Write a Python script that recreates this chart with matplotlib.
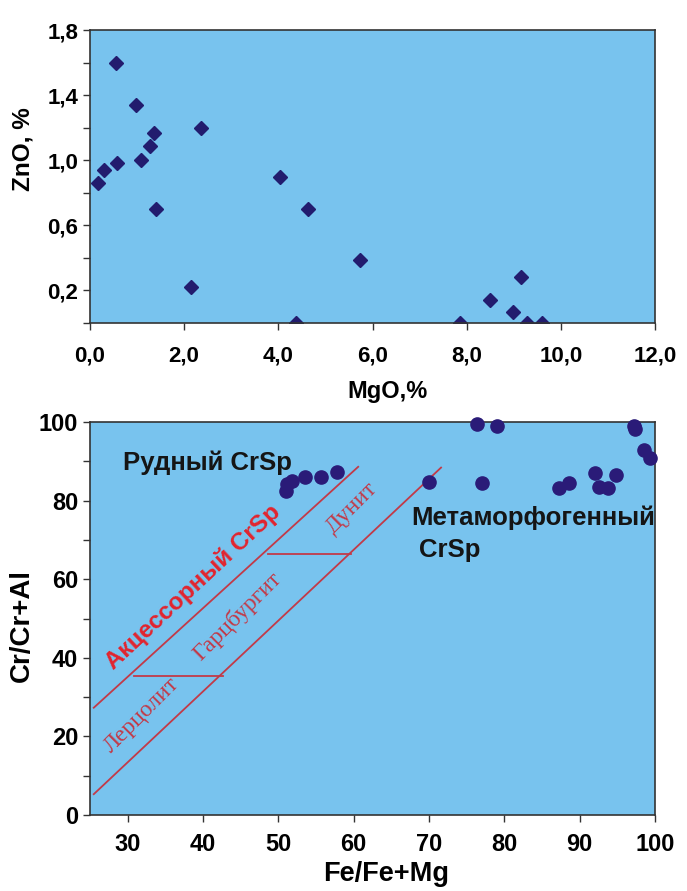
import matplotlib
matplotlib.use("Agg")
import matplotlib.pyplot as plt
from matplotlib.ticker import FixedLocator, MultipleLocator

# ---- data: top chart ----
mgo = [0.16, 0.30, 0.56, 0.58, 0.97, 1.08, 1.28, 1.35, 1.40, 2.14, 2.35,
       4.04, 4.37, 4.62, 5.73, 7.85, 8.50, 8.99, 9.16, 9.28, 9.61]
zno = [0.86, 0.94, 1.60, 0.98, 1.34, 1.00, 1.09, 1.17, 0.70, 0.22, 1.20,
       0.90, 0.00, 0.70, 0.39, 0.00, 0.14, 0.07, 0.28, 0.00, 0.00]
top_xticks = [0, 2, 4, 6, 8, 10, 12]
top_xlabels = ["0,0", "2,0", "4,0", "6,0", "8,0", "10,0", "12,0"]
top_yticks = [0.2, 0.6, 1.0, 1.4, 1.8]
top_ylabels = ["0,2", "0,6", "1,0", "1,4", "1,8"]

# ---- data: bottom chart ----
fe = [51.0, 51.2, 51.8, 53.6, 55.7, 57.8, 70.0, 76.4, 79.0, 77.1,
      87.2, 88.6, 92.1, 92.6, 93.8, 94.8, 97.2, 97.4, 98.6, 99.3]
cr = [82.4, 84.1, 85.0, 86.0, 86.0, 87.4, 84.7, 99.4, 99.0, 84.4,
      83.1, 84.4, 87.0, 83.5, 83.1, 86.5, 99.0, 98.1, 93.0, 90.8]
upper_line_x = [25.5, 60.6]
upper_line_y = [27.3, 88.6]
lower_line_x = [25.5, 71.6]
lower_line_y = [5.3, 88.4]
h1_x = [30.9, 42.6]
h1_y = [35.3, 35.3]
h2_x = [48.6, 59.6]
h2_y = [66.5, 66.5]
bot_xticks = [30, 40, 50, 60, 70, 80, 90, 100]
bot_yticks = [0, 20, 40, 60, 80, 100]

BG = "#78C3EE"
SANS = ["Liberation Sans", "DejaVu Sans"]
SERIF = ["Liberation Serif", "DejaVu Serif"]
RED = "#C23A48"

fig = plt.figure(figsize=(6.87, 8.91), dpi=100)
fig.patch.set_facecolor("white")

# ---------- top ----------
ax1 = fig.add_axes([90/687, 1-323/891, 565/687, 293/891])
ax1.set_facecolor(BG)
ax1.plot(mgo, zno, linestyle="none", marker="D", markersize=6.8,
         color="#221C6E", clip_on=True)
ax1.set_xlim(0, 12)
ax1.set_ylim(0, 1.8)
ax1.xaxis.set_major_locator(FixedLocator(top_xticks))
ax1.set_xticklabels(top_xlabels)
ax1.yaxis.set_major_locator(FixedLocator(top_yticks))
ax1.set_yticklabels(top_ylabels)
ax1.yaxis.set_minor_locator(FixedLocator([0.0, 0.4, 0.8, 1.2, 1.6]))
ax1.tick_params(axis="both", which="both", direction="out", length=5,
                width=1.0, color="#333333")
ax1.tick_params(axis="x", pad=11)
for lab in ax1.get_xticklabels() + ax1.get_yticklabels():
    lab.set_fontfamily(SANS)
    lab.set_fontweight("bold")
    lab.set_fontsize(16)
for sp in ax1.spines.values():
    sp.set_color("#333333")
    sp.set_linewidth(1.2)
ax1.set_xlabel("MgO,%", fontfamily=SANS, fontweight="bold", fontsize=17)
ax1.xaxis.set_label_coords(0.527, -0.195)
ax1.set_ylabel("ZnO, %", fontfamily=SANS, fontweight="bold", fontsize=17.5)
ax1.yaxis.set_label_coords(-0.098, 0.594)

# ---------- bottom ----------
ax2 = fig.add_axes([90/687, 1-815/891, 565/687, 393/891])
ax2.set_facecolor(BG)
ax2.set_xlim(25, 100)
ax2.set_ylim(0, 100)
ax2.plot(upper_line_x, upper_line_y, color=RED, linewidth=1.3)
ax2.plot(lower_line_x, lower_line_y, color=RED, linewidth=1.3)
ax2.plot(h1_x, h1_y, color=RED, linewidth=1.3)
ax2.plot(h2_x, h2_y, color=RED, linewidth=1.3)
ax2.plot(fe, cr, linestyle="none", marker="o", markersize=9.5,
         color="#2A1B78", clip_on=False, zorder=5)
ax2.xaxis.set_major_locator(FixedLocator(bot_xticks))
ax2.yaxis.set_major_locator(FixedLocator(bot_yticks))
ax2.yaxis.set_minor_locator(MultipleLocator(10))
ax2.tick_params(axis="both", which="both", direction="out", length=5,
                width=1.0, color="#333333")
ax2.tick_params(axis="x", pad=8)
for lab in ax2.get_xticklabels() + ax2.get_yticklabels():
    lab.set_fontfamily(SANS)
    lab.set_fontweight("bold")
    lab.set_fontsize(17)
for sp in ax2.spines.values():
    sp.set_color("#333333")
    sp.set_linewidth(1.2)
ax2.set_xlabel("Fe/Fe+Mg", fontfamily=SANS, fontweight="bold", fontsize=19.5)
ax2.xaxis.set_label_coords(0.524, -0.118)
ax2.set_ylabel("Cr/Cr+Al", fontfamily=SANS, fontweight="bold", fontsize=20)
ax2.yaxis.set_label_coords(-0.098, 0.483)

ax2.text(29.4, 89.6, "Рудный CrSp", fontfamily=SANS, fontweight="bold",
         fontsize=18.5, color="#151515", ha="left", va="center")
ax2.text(67.7, 75.6, "Метаморфогенный", fontfamily=SANS, fontweight="bold",
         fontsize=18.5, color="#151515", ha="left", va="center")
ax2.text(68.7, 67.4, "CrSp", fontfamily=SANS, fontweight="bold",
         fontsize=18.5, color="#151515", ha="left", va="center")
ax2.text(38.7, 58.0, "Акцессорный CrSp", fontfamily=SANS, fontweight="bold",
         fontsize=17.5, color="#E2242E", ha="center", va="center", rotation=43,
         rotation_mode="anchor")
ax2.text(31.9, 25.4, "Лерцолит", fontfamily=SERIF, fontsize=17,
         color=RED, ha="center", va="center", rotation=45, rotation_mode="anchor")
ax2.text(44.5, 50.4, "Гарцбургит", fontfamily=SERIF, fontsize=17,
         color=RED, ha="center", va="center", rotation=45, rotation_mode="anchor")
ax2.text(59.7, 78.1, "Дунит", fontfamily=SERIF, fontsize=17,
         color=RED, ha="center", va="center", rotation=45, rotation_mode="anchor")

fig.savefig("out.png", dpi=100, facecolor="white")
